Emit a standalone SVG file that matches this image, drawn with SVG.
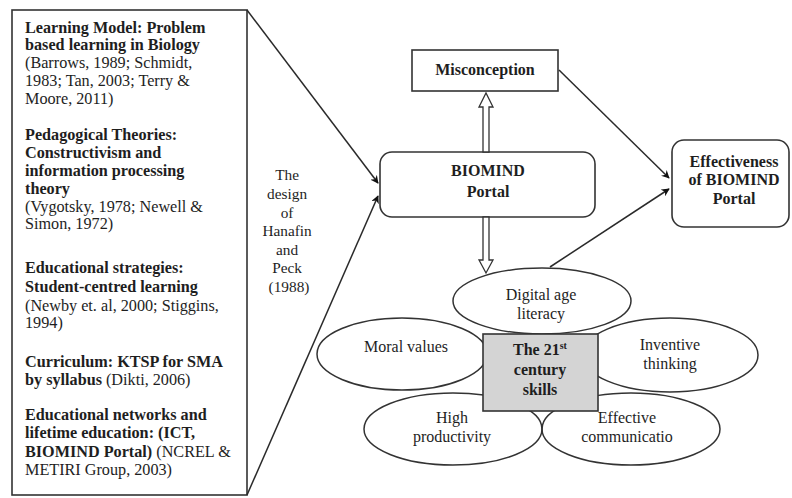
<svg xmlns="http://www.w3.org/2000/svg" width="792" height="498" viewBox="0 0 792 498">
<style>
.t{font-family:"Liberation Serif","Times New Roman","DejaVu Serif",serif;fill:#1e1e1e}
.b{font-weight:bold}
.lt{font-size:16.2px}
.rt{font-size:16px}
.c{text-anchor:middle}
.box{fill:#fff;stroke:#333;stroke-width:1.6}
.ell{fill:none;stroke:#333;stroke-width:1.5}
.con{stroke:#2a2a2a;stroke-width:1.5;fill:none}
.hol{fill:#fff;stroke:#333;stroke-width:1.3}
</style>
<defs>
<marker id="ah" viewBox="0 0 10 10" refX="9" refY="5" markerWidth="8" markerHeight="8" orient="auto" markerUnits="userSpaceOnUse">
<path d="M0,0 L10,5 L0,10 L3,5 z" fill="#111"/>
</marker>
</defs>
<rect width="792" height="498" fill="#fff"/>

<g id="left-box">
<rect class="box" x="12" y="10" width="235" height="485"/>
<text class="t lt" x="25">
<tspan class="b" x="25" y="33">Learning Model: Problem</tspan>
<tspan class="b" x="25" y="50">based learning in Biology</tspan>
<tspan x="25" y="68">(Barrows, 1989; Schmidt,</tspan>
<tspan x="25" y="86">1983; Tan, 2003; Terry &amp;</tspan>
<tspan x="25" y="104">Moore, 2011)</tspan>
<tspan class="b" x="25" y="140">Pedagogical Theories:</tspan>
<tspan class="b" x="25" y="158">Constructivism and</tspan>
<tspan class="b" x="25" y="176">information processing</tspan>
<tspan class="b" x="25" y="194">theory</tspan>
<tspan x="25" y="212">(Vygotsky, 1978; Newell &amp;</tspan>
<tspan x="25" y="229">Simon, 1972)</tspan>
<tspan class="b" x="25" y="273">Educational strategies:</tspan>
<tspan class="b" x="25" y="292">Student-centred learning</tspan>
<tspan x="25" y="311">(Newby et. al, 2000; Stiggins,</tspan>
<tspan x="25" y="328">1994)</tspan>
<tspan class="b" x="25" y="367">Curriculum: KTSP for SMA</tspan>
<tspan class="b" x="25" y="385">by syllabus</tspan><tspan> (Dikti, 2006)</tspan>
<tspan class="b" x="25" y="420">Educational networks and</tspan>
<tspan class="b" x="25" y="438">lifetime education: (ICT,</tspan>
<tspan class="b" x="25" y="457">BIOMIND Portal)</tspan><tspan> (NCREL &amp;</tspan>
<tspan x="25" y="475">METIRI Group, 2003)</tspan>
</text>
</g>

<g id="design-label">
<text class="t c" font-size="15.3" x="289">
<tspan x="289" y="180">The</tspan>
<tspan x="289" y="199">design</tspan>
<tspan x="289" y="218">of</tspan>
<tspan x="289" y="236">Hanafin</tspan>
<tspan x="289" y="255">and</tspan>
<tspan x="289" y="273">Peck</tspan>
<tspan x="289" y="292">(1988)</tspan>
</text>
</g>

<g id="misconception">
<rect class="box" x="412" y="50" width="146" height="41"/>
<text class="t rt b c" x="485" y="75">Misconception</text>
</g>

<g id="biomind">
<rect class="box" x="380" y="152" width="215" height="65" rx="12"/>
<text class="t rt b c" x="488" y="176">BIOMIND</text>
<text class="t rt b c" x="488" y="197">Portal</text>
</g>

<g id="effectiveness">
<rect class="box" x="672" y="140" width="117" height="87" rx="12"/>
<text class="t rt b c" x="734" y="167">Effectiveness</text>
<text class="t rt b c" x="734" y="185">of BIOMIND</text>
<text class="t rt b c" x="734" y="204">Portal</text>
</g>

<g id="connectors">
<line class="con" x1="247" y1="10" x2="378" y2="183" marker-end="url(#ah)"/>
<line class="con" x1="247" y1="495" x2="378" y2="196" marker-end="url(#ah)"/>
<line class="con" x1="559" y1="70" x2="669" y2="178" marker-end="url(#ah)"/>
<line class="con" x1="550" y1="267" x2="669" y2="189" marker-end="url(#ah)"/>
<polygon class="hol" points="483,152 483,107 479,107 486,93 493,107 489,107 489,152"/>
<polygon class="hol" points="483,217 483,260 479,260 486,273 493,260 489,260 489,217"/>
</g>

<g id="digital-age-literacy">
<ellipse class="ell" cx="542" cy="301" rx="89" ry="33"/>
<text class="t rt c" x="541" y="300">Digital age</text>
<text class="t rt c" x="541" y="319">literacy</text>
</g>

<g id="moral-values">
<ellipse class="ell" cx="402" cy="354" rx="85" ry="36"/>
<text class="t rt c" x="406" y="352">Moral values</text>
</g>

<g id="inventive-thinking">
<ellipse class="ell" cx="670" cy="355" rx="88" ry="37"/>
<text class="t rt c" x="670" y="350">Inventive</text>
<text class="t rt c" x="670" y="369">thinking</text>
</g>

<g id="high-productivity">
<ellipse class="ell" cx="453" cy="429" rx="89" ry="36"/>
<text class="t rt c" x="452" y="423">High</text>
<text class="t rt c" x="452" y="442">productivity</text>
</g>

<g id="effective-communication">
<ellipse class="ell" cx="631" cy="429" rx="89" ry="36"/>
<text class="t rt c" x="627" y="423">Effective</text>
<text class="t rt c" x="627" y="442">communicatio</text>
</g>

<g id="skills-21st">
<rect x="483" y="334" width="115" height="77" fill="#d4d4d4" stroke="#333" stroke-width="1.6"/>
<text class="t rt b c" x="540" y="355">The 21<tspan font-size="10" dy="-6">st</tspan></text>
<text class="t rt b c" x="540" y="375">century</text>
<text class="t rt b c" x="540" y="395">skills</text>
</g>
</svg>
